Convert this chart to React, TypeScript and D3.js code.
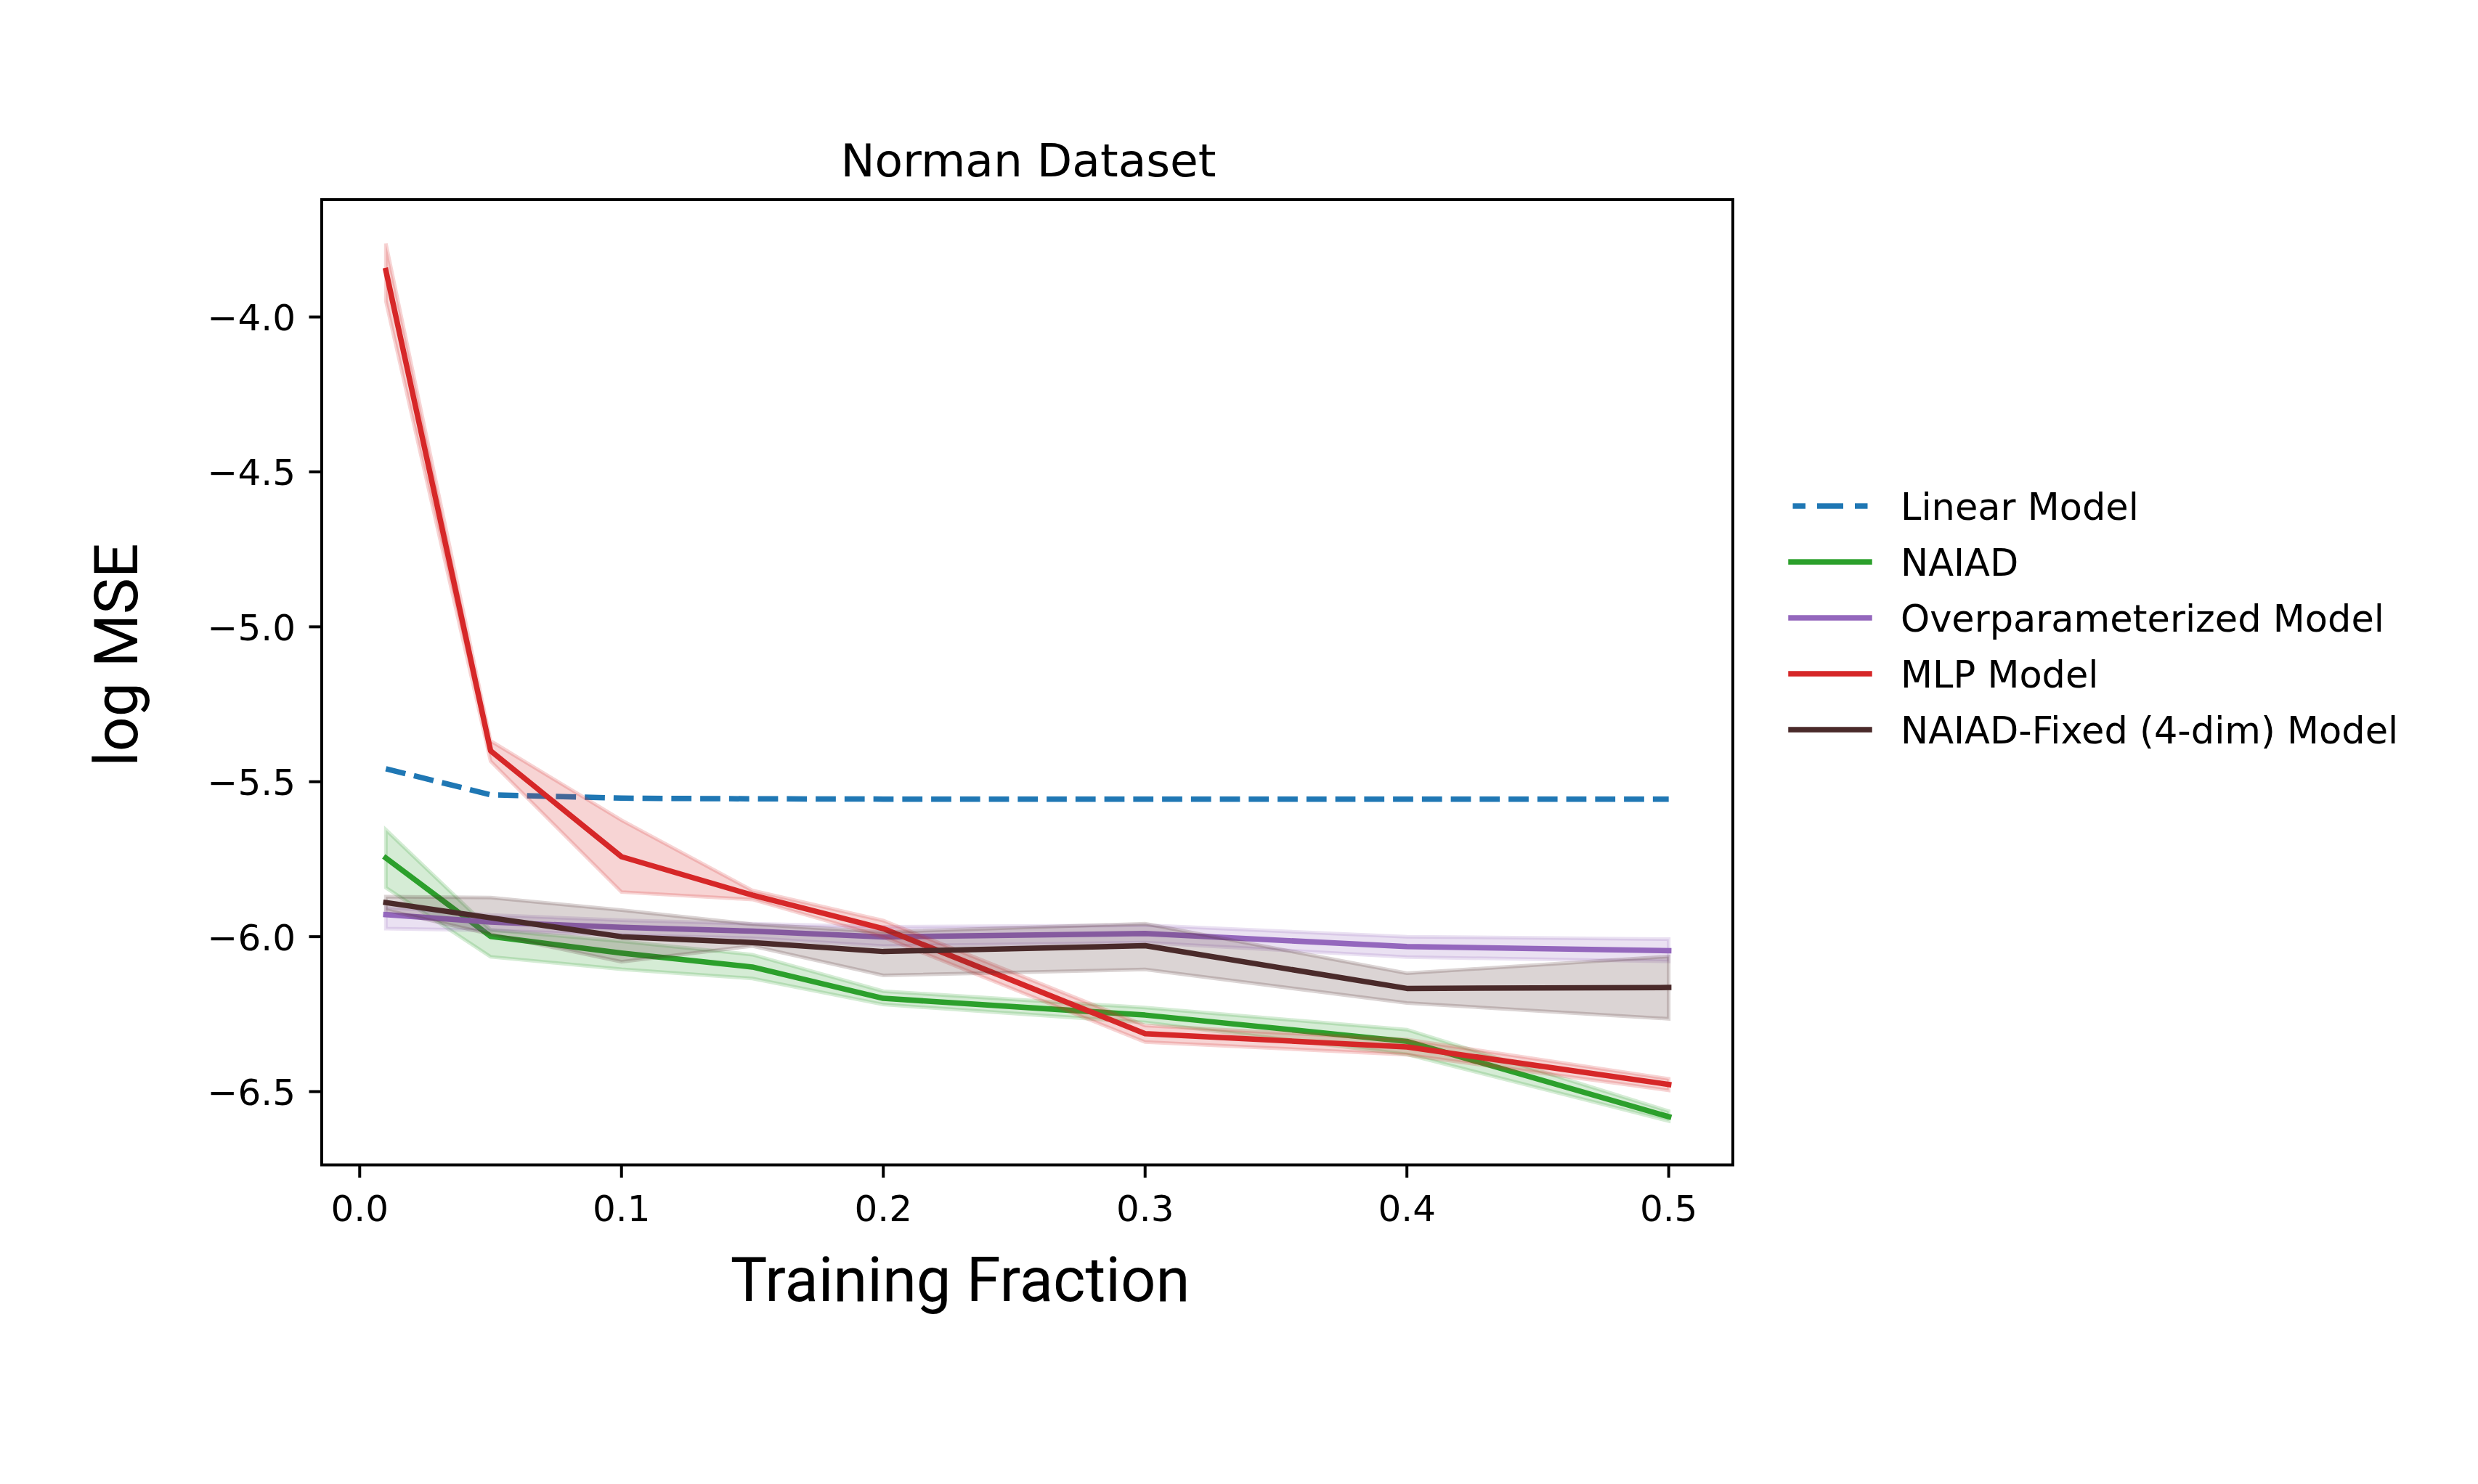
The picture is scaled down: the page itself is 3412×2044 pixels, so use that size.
import * as d3 from 'd3'

// training fractions on the x axis
const fractions = [0.01, 0.05, 0.1, 0.15, 0.2, 0.3, 0.4, 0.5]

const linearMean = [-5.458, -5.542, -5.553, -5.555, -5.556, -5.556, -5.556, -5.556]

const naiadMean = [-5.746, -5.999, -6.053, -6.098, -6.199, -6.253, -6.338, -6.581]
const naiadLow = [-5.842, -6.065, -6.105, -6.135, -6.219, -6.277, -6.38, -6.595]
const naiadHigh = [-5.655, -5.978, -6.015, -6.058, -6.176, -6.229, -6.3, -6.563]

const overMean = [-5.929, -5.953, -5.97, -5.982, -6.001, -5.99, -6.032, -6.045]
const overLow = [-5.974, -5.98, -5.995, -6.005, -6.03, -6.019, -6.066, -6.08]
const overHigh = [-5.905, -5.93, -5.947, -5.958, -5.968, -5.963, -6.0, -6.008]

const mlpMean = [-3.85, -5.4, -5.742, -5.866, -5.974, -6.313, -6.356, -6.477]
const mlpLow = [-3.949, -5.434, -5.856, -5.88, -6.001, -6.34, -6.381, -6.496]
const mlpHigh = [-3.763, -5.368, -5.624, -5.851, -5.948, -6.287, -6.332, -6.459]

const fixedMean = [-5.89, -5.939, -6.0, -6.019, -6.048, -6.029, -6.167, -6.164]
const fixedLow = [-5.914, -5.992, -6.081, -6.03, -6.125, -6.106, -6.214, -6.265]
const fixedHigh = [-5.871, -5.874, -5.914, -5.96, -5.985, -5.958, -6.118, -6.064]

const xTicks = [0, 0.1, 0.2, 0.3, 0.4, 0.5]
const yTicks = [-6.5, -6.0, -5.5, -5.0, -4.5, -4.0]

const seriesNames = [
  'Linear Model',
  'NAIAD',
  'Overparameterized Model',
  'MLP Model',
  'NAIAD-Fixed (4-dim) Model',
]

interface Series {
  name: string
  color: string
  mean: number[]
  low?: number[]
  high?: number[]
  dashed?: boolean
}

const series: Series[] = [
  { name: seriesNames[0], color: '#1f77b4', mean: linearMean, dashed: true },
  { name: seriesNames[1], color: '#2ca02c', mean: naiadMean, low: naiadLow, high: naiadHigh },
  { name: seriesNames[2], color: '#9467bd', mean: overMean, low: overLow, high: overHigh },
  { name: seriesNames[3], color: '#d62728', mean: mlpMean, low: mlpLow, high: mlpHigh },
  { name: seriesNames[4], color: '#4a2a2a', mean: fixedMean, low: fixedLow, high: fixedHigh },
]

const W = 3412
const H = 2044
const box = { left: 443, right: 2386, top: 275, bottom: 1604.5 }
const LW = 7.5
const tickFont = 'DejaVu Sans, sans-serif'
const labelFont = 'Roboto, sans-serif'

export default function App() {
  // matplotlib style 5% margins around the data
  const xMin = d3.min(fractions)!
  const xMax = d3.max(fractions)!
  const allY = series.flatMap((s) => [...s.mean, ...(s.low ?? []), ...(s.high ?? [])])
  const yMin = d3.min(allY)!
  const yMax = d3.max(allY)!
  const xPad = (xMax - xMin) * 0.05
  const yPad = (yMax - yMin) * 0.05

  const x = d3.scaleLinear().domain([xMin - xPad, xMax + xPad]).range([box.left, box.right])
  const y = d3.scaleLinear().domain([yMin - yPad, yMax + yPad]).range([box.bottom, box.top])

  const line = d3
    .line<number>()
    .x((_, i) => x(fractions[i]))
    .y((d) => y(d))

  const fmt = d3.format('.1f')

  const legendX0 = 2466
  const legendX1 = 2574
  const legendY0 = 697
  const legendStep = 77

  return (
    <svg width={W} height={H} style={{ position: 'absolute', left: 0, top: 0, background: '#fff' }}>
      <rect width={W} height={H} fill="#fff" />

      {series.map((s) => {
        const area =
          s.low && s.high
            ? d3
                .area<number>()
                .x((_, i) => x(fractions[i]))
                .y0((_, i) => y(s.low![i]))
                .y1((_, i) => y(s.high![i]))(fractions)
            : null
        return (
          <g key={s.name}>
            {area && (
              <path
                d={area!}
                fill={s.color}
                fillOpacity={0.2}
                stroke={s.color}
                strokeOpacity={0.2}
                strokeWidth={5}
              />
            )}
            <path
              d={line(s.mean)!}
              fill="none"
              stroke={s.color}
              strokeWidth={LW}
              strokeDasharray={s.dashed ? '27.75,12' : undefined}
              strokeLinecap={s.dashed ? 'butt' : 'square'}
              strokeLinejoin="round"
            />
          </g>
        )
      })}

      {/* axes frame */}
      <rect
        x={box.left}
        y={box.top}
        width={box.right - box.left}
        height={box.bottom - box.top}
        fill="none"
        stroke="#000"
        strokeWidth={4}
      />

      {xTicks.map((t) => (
        <g key={'x' + t}>
          <line x1={x(t)} x2={x(t)} y1={box.bottom} y2={box.bottom + 17.5} stroke="#000" strokeWidth={4} />
          <text x={x(t)} y={1682} textAnchor="middle" fontFamily={tickFont} fontSize={50}>
            {fmt(t)}
          </text>
        </g>
      ))}

      {yTicks.map((t) => (
        <g key={'y' + t}>
          <line x1={box.left - 17.5} x2={box.left} y1={y(t)} y2={y(t)} stroke="#000" strokeWidth={4} />
          <text x={407} y={y(t) + 18.5} textAnchor="end" fontFamily={tickFont} fontSize={50}>
            {fmt(t)}
          </text>
        </g>
      ))}

      <text x={1416} y={243} textAnchor="middle" fontFamily={tickFont} fontSize={63}>
        Norman Dataset
      </text>

      <text x={1322} y={1792} textAnchor="middle" fontFamily={labelFont} fontSize={85}>
        Training Fraction
      </text>

      <text
        transform={`translate(189,902) rotate(-90)`}
        textAnchor="middle"
        fontFamily={labelFont}
        fontSize={84}
      >
        log MSE
      </text>

      {/* legend */}
      {series.map((s, i) => {
        const ly = legendY0 + i * legendStep
        return (
          <g key={'leg' + s.name}>
            <line
              x1={s.dashed ? legendX0 + 2.5 : legendX0}
              x2={s.dashed ? legendX1 - 2.5 : legendX1}
              y1={ly}
              y2={ly}
              stroke={s.color}
              strokeWidth={LW}
              strokeDasharray={s.dashed ? '17.5,16,36,16,17.5' : undefined}
              strokeLinecap={s.dashed ? 'butt' : 'square'}
            />
            <text x={2617} y={ly + 19} fontFamily={tickFont} fontSize={51}>
              {s.name}
            </text>
          </g>
        )
      })}
    </svg>
  )
}
